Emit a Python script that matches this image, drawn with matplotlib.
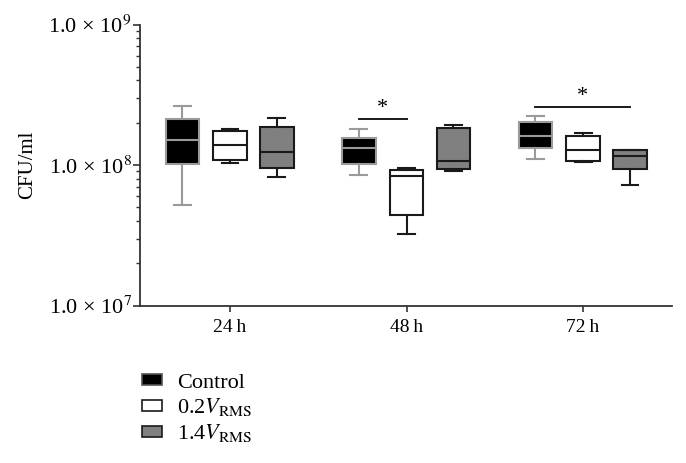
import matplotlib
matplotlib.use("Agg")
import matplotlib.pyplot as plt
from matplotlib.patches import Patch

plt.rcParams['font.family'] = ['Liberation Serif', 'DejaVu Serif']
plt.rcParams['mathtext.fontset'] = 'stix'

# time points and groups
times = ['24\u2009h', '48\u2009h', '72\u2009h']
groups = ['Control', r'0.2$V_{\mathrm{RMS}}$', r'1.4$V_{\mathrm{RMS}}$']

# box statistics (CFU/ml), one list per group, ordered 24h, 48h, 72h
control_whishi = [2.64e8, 1.82e8, 2.24e8]
control_q3 = [2.11e8, 1.57e8, 2.02e8]
control_med = [1.52e8, 1.33e8, 1.60e8]
control_q1 = [1.01e8, 1.01e8, 1.32e8]
control_whislo = [5.22e7, 8.49e7, 1.10e8]

low_whishi = [1.82e8, 9.48e7, 1.69e8]
low_q3 = [1.75e8, 9.27e7, 1.62e8]
low_med = [1.39e8, 8.36e7, 1.27e8]
low_q1 = [1.09e8, 4.40e7, 1.07e8]
low_whislo = [1.03e8, 3.24e7, 1.05e8]

high_whishi = [2.15e8, 1.94e8, 1.28e8]
high_q3 = [1.86e8, 1.85e8, 1.27e8]
high_med = [1.24e8, 1.07e8, 1.16e8]
high_q1 = [9.53e7, 9.31e7, 9.38e7]
high_whislo = [8.17e7, 9.02e7, 7.16e7]

# significance brackets: time index, group a, group b, height
sig_time = [1, 2]
sig_from = [0, 0]
sig_to = [1, 2]
sig_y = [2.11e8, 2.6e8]

series = [
    (control_whislo, control_q1, control_med, control_q3, control_whishi),
    (low_whislo, low_q1, low_med, low_q3, low_whishi),
    (high_whislo, high_q1, high_med, high_q3, high_whishi),
]
face = ['black', 'white', '#808080']
edge = ['#9a9a9a', '#1a1a1a', '#1a1a1a']
offsets = [-0.27, 0.0, 0.265]
width = 0.19

fig = plt.figure(figsize=(6.86, 4.63), dpi=100)
ax = fig.add_axes([0.204, 0.340, 0.776, 0.607])

for g, (wlo, q1, med, q3, whi) in enumerate(series):
    stats = []
    for t in range(len(times)):
        stats.append(dict(whislo=wlo[t], q1=q1[t], med=med[t], q3=q3[t],
                          whishi=whi[t], fliers=[]))
    pos = [t + 1 + offsets[g] for t in range(len(times))]
    lw = 1.5
    ax.bxp(stats, positions=pos, widths=width, patch_artist=True,
           showfliers=False,
           boxprops=dict(facecolor=face[g], edgecolor=edge[g], linewidth=lw),
           medianprops=dict(color=edge[g], linewidth=lw),
           whiskerprops=dict(color=edge[g], linewidth=lw),
           capprops=dict(color=edge[g], linewidth=lw),
           manage_ticks=False)

for t, a, b, y in zip(sig_time, sig_from, sig_to, sig_y):
    x1 = t + 1 + offsets[a]
    x2 = t + 1 + offsets[b]
    ax.plot([x1, x2], [y, y], color='#1a1a1a', lw=1.4)
    ax.text((x1 + x2) / 2, y * 1.02, '*', ha='center', va='bottom', fontsize=16)

ax.set_yscale('log')
ax.set_ylim(1e7, 1e9)
ax.set_xlim(0.49, 3.505)
ax.set_yticks([1e7, 1e8, 1e9])
ax.set_yticklabels(['1.0 \u00d7 10$^{7}$', '1.0 \u00d7 10$^{8}$', '1.0 \u00d7 10$^{9}$'],
                   fontsize=16)
ax.set_xticks([1, 2, 3])
ax.set_xticklabels(times, fontsize=14)
ax.set_ylabel('CFU/ml', fontsize=15, labelpad=8)

for s in ['top', 'right']:
    ax.spines[s].set_visible(False)
for s in ['left', 'bottom']:
    ax.spines[s].set_color('#333333')
    ax.spines[s].set_linewidth(1.3)
ax.tick_params(axis='y', which='major', length=5, width=1.2, color='#333333', pad=1)
ax.tick_params(axis='y', which='minor', length=3, width=1.0, color='#333333')
ax.tick_params(axis='x', length=4, width=1.2, color='#333333', pad=6)
ax.yaxis.set_minor_formatter(plt.NullFormatter())

handles = [Patch(facecolor=face[i], edgecolor=edge[i] if i else '#555555', linewidth=1.2)
           for i in range(3)]
fig.legend(handles, groups, loc='upper left', bbox_to_anchor=(0.207, 0.193),
           frameon=False, fontsize=16, handlelength=0.9, handleheight=0.38,
           handletextpad=0.68, labelspacing=0.17, borderpad=0, borderaxespad=0)

fig.savefig('out.png', dpi=100)
